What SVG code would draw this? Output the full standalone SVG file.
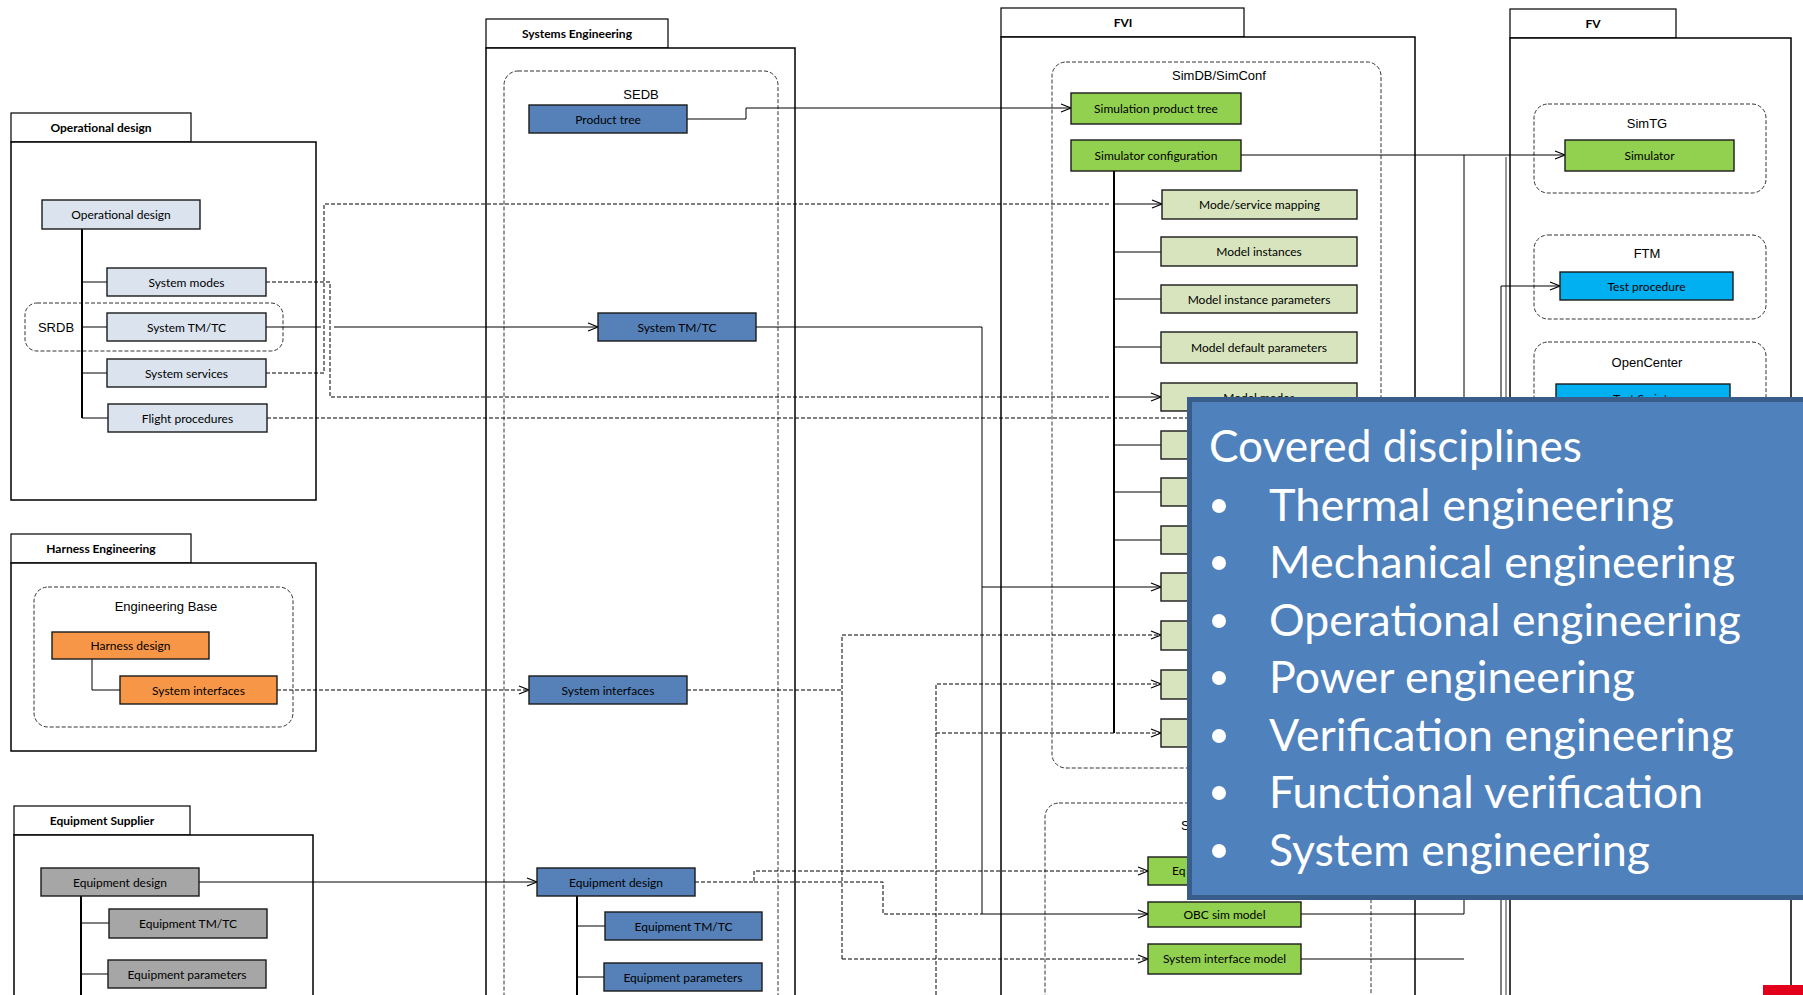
<svg xmlns="http://www.w3.org/2000/svg" width="1803" height="995" viewBox="0 0 1803 995">
<style>
.pkg{fill:#fff;stroke:#000;stroke-width:1.5}
.tab{fill:#fff;stroke:#000;stroke-width:1.2}
.ctr{fill:none;stroke:#333;stroke-width:1;stroke-dasharray:4 2}
.n{stroke:#1a1a1a;stroke-width:1.4}
.op{fill:#DAE3EE}.or{fill:#F79646}.gy{fill:#A6A6A6}.bl{fill:#5581B8}.gr{fill:#92D050}.lg{fill:#D7E4BD}.cy{fill:#00B0F0}
.t{font-family:Lato,'Open Sans',sans-serif;font-size:12px;text-anchor:middle;fill:#000}
.h{font-family:Lato,'Open Sans',sans-serif;font-weight:bold;font-size:12px;text-anchor:middle;fill:#000}
.c{font-family:'Liberation Sans',Arial,sans-serif;font-size:13px;text-anchor:middle;fill:#000}
.s{fill:none;stroke:#000;stroke-width:1}
.d{fill:none;stroke:#000;stroke-width:1;stroke-dasharray:4 2}
.tr{fill:none;stroke:#000;stroke-width:2}
.o{font-family:Lato,'Open Sans',sans-serif;font-size:44px;fill:#fff}
</style>
<defs>
<marker id="a" markerWidth="12" markerHeight="10" refX="11" refY="5" orient="auto" markerUnits="userSpaceOnUse"><path d="M1,1 L11,5 L1,9" fill="none" stroke="#000" stroke-width="1.2" stroke-dasharray="none"/></marker>
</defs>

<g id="packages">
<g id="pkg-operational"><rect class="tab" x="11" y="113" width="180" height="29"/><rect class="pkg" x="11" y="142" width="305" height="358"/><text class="h" x="101" y="132">Operational design</text></g>
<g id="pkg-harness"><rect class="tab" x="11" y="534" width="180" height="29"/><rect class="pkg" x="11" y="563" width="305" height="188"/><text class="h" x="101" y="553">Harness Engineering</text></g>
<g id="pkg-equipment"><rect class="tab" x="14" y="806" width="176" height="29"/><rect class="pkg" x="14" y="835" width="299" height="200"/><text class="h" x="102" y="825">Equipment Supplier</text></g>
<g id="pkg-se"><rect class="tab" x="486" y="19" width="182" height="29"/><rect class="pkg" x="486" y="48" width="309" height="1000"/><text class="h" x="577" y="38">Systems Engineering</text></g>
<g id="pkg-fvi"><rect class="tab" x="1001" y="8" width="243" height="29"/><rect class="pkg" x="1001" y="37" width="414" height="1000"/><text class="h" x="1123" y="27">FVI</text></g>
<g id="pkg-fv"><rect class="tab" x="1510" y="9" width="166" height="29"/><rect class="pkg" x="1510" y="38" width="281" height="1000"/><text class="h" x="1593" y="28">FV</text></g>
</g>

<g id="containers">
<g id="srdb"><rect class="ctr" x="25" y="303" width="258" height="48" rx="12"/><text class="c" x="56" y="332">SRDB</text></g>
<g id="sedb"><rect class="ctr" x="504" y="71" width="274" height="1000" rx="14"/><text class="c" x="641" y="99">SEDB</text></g>
<g id="engbase"><rect class="ctr" x="34" y="587" width="259" height="140" rx="14"/><text class="c" x="166" y="611">Engineering Base</text></g>
<g id="simdb"><rect class="ctr" x="1052" y="62" width="329" height="706" rx="14"/><text class="c" x="1219" y="80">SimDB/SimConf</text></g>
<g id="fvi-lower"><rect class="ctr" x="1045" y="803" width="326" height="250" rx="14"/><text class="c" x="1181" y="830" style="text-anchor:start">S</text></g>
<g id="simtg"><rect class="ctr" x="1534" y="104" width="232" height="89" rx="14"/><text class="c" x="1647" y="128">SimTG</text></g>
<g id="ftm"><rect class="ctr" x="1534" y="235" width="232" height="84" rx="14"/><text class="c" x="1647" y="258">FTM</text></g>
<g id="opencenter"><rect class="ctr" x="1534" y="342" width="232" height="200" rx="14"/><text class="c" x="1647" y="367">OpenCenter</text></g>
</g>

<g id="connectors">
<path class="tr" d="M82,229 V418"/>
<path class="s" d="M82,282 H107 M82,327 H107 M82,373 H107 M82,418 H108"/>
<path class="s" d="M92,659 V690 H120"/>
<path class="tr" d="M81,896 V995"/>
<path class="s" d="M81,923 H109 M81,974 H108"/>
<path class="tr" d="M577,896 V995"/>
<path class="s" d="M577,926 H605 M577,977 H604"/>
<path class="tr" d="M1114,171 V733"/>
<path class="s" d="M1114,252 H1161 M1114,299 H1161 M1114,347 H1161 M1114,445 H1161 M1114,492 H1161 M1114,540 H1161"/>
<path class="s" d="M1114,204 H1162" marker-end="url(#a)"/>
<path class="s" d="M1114,397 H1161" marker-end="url(#a)"/>

<path class="s" d="M687,119 H746 V108 H1071" marker-end="url(#a)"/>
<path class="s" d="M1241,155 H1565" marker-end="url(#a)"/>
<path class="s" d="M266,327 H321"/>
<path class="s" d="M334,327 H598" marker-end="url(#a)"/>
<path class="d" d="M266,373 H324 V204 H1110"/>
<path class="d" d="M266,282 H330 V397 H1110"/>
<path class="d" d="M267,418 H1200"/>
<path class="d" d="M277,690 H529" marker-end="url(#a)"/>
<path class="s" d="M199,882 H537" marker-end="url(#a)"/>
<path class="s" d="M756,327 H982 V914 H1148" marker-end="url(#a)"/>
<path class="s" d="M982,587 H1161" marker-end="url(#a)"/>
<path class="d" d="M687,690 H842"/>
<path class="d" d="M842,959 V635 H1161" marker-end="url(#a)"/>
<path class="d" d="M842,959 H1148" marker-end="url(#a)"/>
<path class="d" d="M936,995 V684 H1161" marker-end="url(#a)"/>
<path class="d" d="M936,733 H1161" marker-end="url(#a)"/>
<path class="d" d="M695,882 H754 V871 H1148" marker-end="url(#a)"/>
<path class="d" d="M754,882 H883 V914 H982"/>
<path class="s" d="M1301,914 H1464 V155"/>
<path class="s" d="M1301,959 H1464"/>
<path class="s" d="M1506,157 V995" style="stroke:#777;stroke-width:1.5"/>
<path class="s" d="M1501,995 V286 H1560" marker-end="url(#a)"/>
</g>

<g id="nodes">
<g id="n-op-design"><rect class="n op" x="42" y="200" width="158" height="29"/><text class="t" x="121" y="218.5">Operational design</text></g>
<g id="n-sys-modes"><rect class="n op" x="107" y="268" width="159" height="28"/><text class="t" x="186.5" y="286.5">System modes</text></g>
<g id="n-sys-tmtc"><rect class="n op" x="107" y="313" width="159" height="28"/><text class="t" x="186.5" y="331.5">System TM/TC</text></g>
<g id="n-sys-services"><rect class="n op" x="107" y="359" width="159" height="28"/><text class="t" x="186.5" y="377.5">System services</text></g>
<g id="n-flight-proc"><rect class="n op" x="108" y="404" width="159" height="28"/><text class="t" x="187.5" y="422.5">Flight procedures</text></g>

<g id="n-harness-design"><rect class="n or" x="52" y="632" width="157" height="27"/><text class="t" x="130.5" y="650">Harness design</text></g>
<g id="n-hs-sysif"><rect class="n or" x="120" y="676" width="157" height="28"/><text class="t" x="198.5" y="694.5">System interfaces</text></g>

<g id="n-es-eqdesign"><rect class="n gy" x="41" y="868" width="158" height="28"/><text class="t" x="120" y="886.5">Equipment design</text></g>
<g id="n-es-eqtmtc"><rect class="n gy" x="109" y="909" width="158" height="29"/><text class="t" x="188" y="928">Equipment TM/TC</text></g>
<g id="n-es-eqparams"><rect class="n gy" x="108" y="960" width="158" height="28"/><text class="t" x="187" y="978.5">Equipment parameters</text></g>

<g id="n-product-tree"><rect class="n bl" x="529" y="105" width="158" height="28"/><text class="t" x="608" y="123.5">Product tree</text></g>
<g id="n-se-tmtc"><rect class="n bl" x="598" y="313" width="158" height="28"/><text class="t" x="677" y="331.5">System TM/TC</text></g>
<g id="n-se-sysif"><rect class="n bl" x="529" y="676" width="158" height="28"/><text class="t" x="608" y="694.5">System interfaces</text></g>
<g id="n-se-eqdesign"><rect class="n bl" x="537" y="868" width="158" height="28"/><text class="t" x="616" y="886.5">Equipment design</text></g>
<g id="n-se-eqtmtc"><rect class="n bl" x="605" y="912" width="157" height="28"/><text class="t" x="683.5" y="930.5">Equipment TM/TC</text></g>
<g id="n-se-eqparams"><rect class="n bl" x="604" y="963" width="158" height="28"/><text class="t" x="683" y="981.5">Equipment parameters</text></g>

<g id="n-sim-ptree"><rect class="n gr" x="1071" y="93" width="170" height="31"/><text class="t" x="1156" y="113">Simulation product tree</text></g>
<g id="n-sim-config"><rect class="n gr" x="1071" y="140" width="170" height="31"/><text class="t" x="1156" y="160">Simulator configuration</text></g>
<g id="n-mode-map"><rect class="n lg" x="1162" y="190" width="195" height="29"/><text class="t" x="1259.5" y="209">Mode/service mapping</text></g>
<g id="n-model-inst"><rect class="n lg" x="1161" y="237" width="196" height="29"/><text class="t" x="1259" y="256">Model instances</text></g>
<g id="n-model-inst-par"><rect class="n lg" x="1161" y="285" width="196" height="28"/><text class="t" x="1259" y="303.5">Model instance parameters</text></g>
<g id="n-model-def-par"><rect class="n lg" x="1161" y="332" width="196" height="31"/><text class="t" x="1259" y="352">Model default parameters</text></g>
<g id="n-model-modes"><rect class="n lg" x="1161" y="383" width="196" height="28"/><text class="t" x="1259" y="401.5">Model modes</text></g>
<g id="n-simdb-6"><rect class="n lg" x="1161" y="431" width="196" height="28"/></g>
<g id="n-simdb-7"><rect class="n lg" x="1161" y="478" width="196" height="28"/></g>
<g id="n-simdb-8"><rect class="n lg" x="1161" y="526" width="196" height="28"/></g>
<g id="n-simdb-9"><rect class="n lg" x="1161" y="573" width="196" height="28"/></g>
<g id="n-simdb-10"><rect class="n lg" x="1161" y="621" width="196" height="29"/></g>
<g id="n-simdb-11"><rect class="n lg" x="1161" y="670" width="196" height="29"/></g>
<g id="n-simdb-12"><rect class="n lg" x="1161" y="719" width="196" height="28"/></g>

<g id="n-eq-model"><rect class="n gr" x="1148" y="857" width="153" height="28"/><text class="t" x="1172" y="875" style="text-anchor:start">Eq</text></g>
<g id="n-obc"><rect class="n gr" x="1148" y="902" width="153" height="25"/><text class="t" x="1224.5" y="918.5">OBC sim model</text></g>
<g id="n-sysif-model"><rect class="n gr" x="1148" y="944" width="153" height="30"/><text class="t" x="1224.5" y="963">System interface model</text></g>

<g id="n-simulator"><rect class="n gr" x="1565" y="140" width="169" height="31"/><text class="t" x="1649.5" y="160">Simulator</text></g>
<g id="n-test-proc"><rect class="n cy" x="1560" y="272" width="173" height="28"/><text class="t" x="1646.5" y="290.5">Test procedure</text></g>
<g id="n-test-scripts"><rect class="n cy" x="1556" y="384" width="174" height="30"/><text class="t" x="1643" y="403">Test Scripts</text></g>
</g>

<g id="overlay">
<rect x="1187" y="397" width="620" height="503" fill="#385D8A"/>
<rect x="1192" y="402" width="615" height="493" fill="#4F81BD"/>
<text class="o" x="1209" y="462" textLength="373" lengthAdjust="spacingAndGlyphs">Covered disciplines</text>
<g fill="#fff">
<circle cx="1219" cy="506" r="7"/><circle cx="1219" cy="563" r="7"/><circle cx="1219" cy="621" r="7"/><circle cx="1219" cy="678" r="7"/><circle cx="1219" cy="736" r="7"/><circle cx="1219" cy="793" r="7"/><circle cx="1219" cy="851" r="7"/>
</g>
<text class="o" x="1269" y="521" textLength="405" lengthAdjust="spacingAndGlyphs">Thermal engineering</text>
<text class="o" x="1269" y="578" textLength="466" lengthAdjust="spacingAndGlyphs">Mechanical engineering</text>
<text class="o" x="1269" y="636" textLength="472" lengthAdjust="spacingAndGlyphs">Operational engineering</text>
<text class="o" x="1269" y="693" textLength="366" lengthAdjust="spacingAndGlyphs">Power engineering</text>
<text class="o" x="1269" y="751" textLength="465" lengthAdjust="spacingAndGlyphs">Verification engineering</text>
<text class="o" x="1269" y="808" textLength="434" lengthAdjust="spacingAndGlyphs">Functional verification</text>
<text class="o" x="1269" y="866" textLength="381" lengthAdjust="spacingAndGlyphs">System engineering</text>
</g>
<rect id="logo-mark" x="1763" y="985" width="40" height="10" fill="#E2001A"/>
</svg>
